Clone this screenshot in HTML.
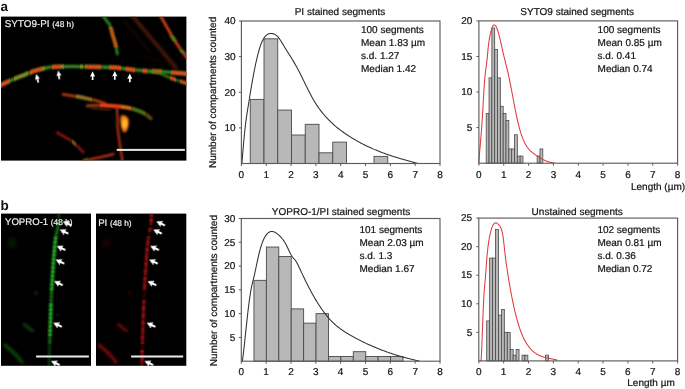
<!DOCTYPE html>
<html><head><meta charset="utf-8"><style>
html,body{margin:0;padding:0;background:#fff;}
body{width:685px;height:389px;overflow:hidden;}
svg{display:block;font-family:"Liberation Sans", sans-serif;}
text{text-rendering:geometricPrecision;}
.t text{stroke:#141414;stroke-width:0.22px;}
</style></head><body>
<svg width="685" height="389" viewBox="0 0 685 389" font-family="'Liberation Sans', sans-serif">
<rect width="685" height="389" fill="#fff"/>
<g opacity="0.999">
<defs><filter id="bl" x="-20%" y="-20%" width="140%" height="140%"><feGaussianBlur stdDeviation="1.05"/></filter><filter id="bl2" x="-20%" y="-20%" width="140%" height="140%"><feGaussianBlur stdDeviation="1.6"/></filter><filter id="bl3" x="-30%" y="-30%" width="160%" height="160%"><feGaussianBlur stdDeviation="2.5"/></filter><clipPath id="ca"><rect x="1" y="16.6" width="185.4" height="144.0"/></clipPath><clipPath id="cb1"><rect x="1" y="213.6" width="90" height="152.2"/></clipPath><clipPath id="cb2"><rect x="96" y="213.6" width="90.3" height="152.2"/></clipPath><clipPath id="f1y"><rect x="20" y="0" width="8" height="389"/><rect x="42" y="0" width="3" height="389"/><rect x="61" y="0" width="3" height="389"/><rect x="80" y="0" width="3" height="389"/><rect x="14" y="0" width="6" height="389"/></clipPath><clipPath id="f1o"><rect x="-5" y="0" width="15" height="389"/><rect x="30" y="0" width="12" height="389"/><rect x="52" y="0" width="9" height="389"/><rect x="85" y="0" width="16" height="389"/><rect x="109" y="0" width="12" height="389"/><rect x="125.5" y="0" width="9.5" height="389"/><rect x="142.5" y="0" width="5.0" height="389"/><rect x="152" y="0" width="10" height="389"/><rect x="171" y="0" width="19" height="389"/></clipPath><clipPath id="f1g"><rect x="10" y="0" width="4" height="389"/><rect x="42" y="0" width="10" height="389"/><rect x="63" y="0" width="17" height="389"/><rect x="101" y="0" width="8" height="389"/><rect x="121" y="0" width="4.5" height="389"/><rect x="135" y="0" width="7.5" height="389"/><rect x="147.5" y="0" width="4.5" height="389"/><rect x="162" y="0" width="9" height="389"/></clipPath><clipPath id="f1bo"><rect x="170" y="0" width="6" height="389"/><rect x="180" y="0" width="12" height="389"/></clipPath><clipPath id="f2o"><rect x="0" y="27" width="190" height="20.5"/></clipPath><clipPath id="f3g"><rect x="0" y="35.6" width="190" height="5.699999999999996"/><rect x="0" y="50" width="190" height="3.6000000000000014"/></clipPath><clipPath id="f5ag"><rect x="76" y="0" width="16" height="389"/></clipPath><clipPath id="f5bo"><rect x="100" y="0" width="21" height="389"/></clipPath><clipPath id="f5by"><rect x="121" y="0" width="10" height="389"/></clipPath><clipPath id="f5bg"><rect x="131" y="0" width="14" height="389"/></clipPath><clipPath id="f5bg2"><rect x="145" y="0" width="15" height="389"/></clipPath><clipPath id="f8g"><rect x="72" y="0" width="4" height="389"/></clipPath><clipPath id="f9g"><rect x="82" y="0" width="6" height="389"/></clipPath><filter id="bla" x="-50%" y="-50%" width="200%" height="200%"><feGaussianBlur stdDeviation="0.35"/></filter><clipPath id="bb1"><rect x="0" y="236" width="190" height="55"/><rect x="0" y="303" width="190" height="33"/></clipPath><clipPath id="bm1"><rect x="0" y="291" width="190" height="12"/><rect x="0" y="336" width="190" height="8"/><rect x="0" y="222" width="190" height="14"/></clipPath><clipPath id="bb96"><rect x="0" y="213" width="190" height="12"/><rect x="0" y="228" width="190" height="4"/><rect x="0" y="236" width="190" height="54"/><rect x="0" y="300" width="190" height="44"/><rect x="0" y="350" width="190" height="16"/></clipPath></defs>
<rect x="1" y="16.6" width="185.4" height="144.0" fill="#000"/>
<g clip-path="url(#ca)">
<path d="M131.00,14.00 C133.33,16.83 140.58,25.72 145.00,31.00 C149.42,36.28 153.17,40.53 157.50,45.70 C161.83,50.87 167.92,58.28 171.00,62.00 C174.08,65.72 175.17,67.00 176.00,68.00" fill="none" stroke="#7a2a12" stroke-width="3.0" stroke-linecap="round" stroke-linejoin="round" opacity="0.7" filter="url(#bl2)"/>
<path d="M124.00,21.00 C126.17,23.50 132.67,30.83 137.00,36.00 C141.33,41.17 147.83,49.33 150.00,52.00" fill="none" stroke="#3a1408" stroke-width="3" stroke-linecap="round" stroke-linejoin="round" opacity="0.3" filter="url(#bl2)"/>
<path d="M139.00,56.00 C142.50,56.83 153.83,59.67 160.00,61.00 C166.17,62.33 173.33,63.50 176.00,64.00" fill="none" stroke="#3a0c06" stroke-width="3" stroke-linecap="round" stroke-linejoin="round" opacity="0.2" filter="url(#bl2)"/>
<path d="M-3.00,87.00 C-2.50,86.77 -1.78,86.47 0.00,85.60 C1.78,84.73 5.13,83.00 7.70,81.80 C10.27,80.60 12.83,79.47 15.40,78.40 C17.97,77.33 20.52,76.43 23.10,75.40 C25.68,74.37 28.75,73.02 30.90,72.20 C33.05,71.38 34.08,71.07 36.00,70.50 C37.92,69.93 40.17,69.33 42.40,68.80 C44.63,68.27 46.47,67.67 49.40,67.30 C52.33,66.93 55.73,66.73 60.00,66.60 C64.27,66.47 70.00,66.47 75.00,66.50 C80.00,66.53 85.83,66.72 90.00,66.80 C94.17,66.88 95.83,66.88 100.00,67.00 C104.17,67.12 110.60,67.17 115.00,67.50 C119.40,67.83 123.42,68.63 126.40,69.00 C129.38,69.37 129.68,69.37 132.90,69.70 C136.12,70.03 141.42,70.72 145.70,71.00 C149.98,71.28 154.32,71.15 158.60,71.40 C162.88,71.65 166.17,72.07 171.40,72.50 C176.63,72.93 186.90,73.75 190.00,74.00" fill="none" stroke="#30962a" stroke-width="3.1" stroke-linecap="round" stroke-linejoin="round" opacity="1" filter="url(#bl)"/>
<path d="M-3.00,87.00 C-2.50,86.77 -1.78,86.47 0.00,85.60 C1.78,84.73 5.13,83.00 7.70,81.80 C10.27,80.60 12.83,79.47 15.40,78.40 C17.97,77.33 20.52,76.43 23.10,75.40 C25.68,74.37 28.75,73.02 30.90,72.20 C33.05,71.38 34.08,71.07 36.00,70.50 C37.92,69.93 40.17,69.33 42.40,68.80 C44.63,68.27 46.47,67.67 49.40,67.30 C52.33,66.93 55.73,66.73 60.00,66.60 C64.27,66.47 70.00,66.47 75.00,66.50 C80.00,66.53 85.83,66.72 90.00,66.80 C94.17,66.88 95.83,66.88 100.00,67.00 C104.17,67.12 110.60,67.17 115.00,67.50 C119.40,67.83 123.42,68.63 126.40,69.00 C129.38,69.37 129.68,69.37 132.90,69.70 C136.12,70.03 141.42,70.72 145.70,71.00 C149.98,71.28 154.32,71.15 158.60,71.40 C162.88,71.65 166.17,72.07 171.40,72.50 C176.63,72.93 186.90,73.75 190.00,74.00" fill="none" stroke="#9a8a1e" stroke-width="3.1" stroke-linecap="round" stroke-linejoin="round" opacity="1" clip-path="url(#f1y)" filter="url(#bl)"/>
<path d="M-3.00,87.00 C-2.50,86.77 -1.78,86.47 0.00,85.60 C1.78,84.73 5.13,83.00 7.70,81.80 C10.27,80.60 12.83,79.47 15.40,78.40 C17.97,77.33 20.52,76.43 23.10,75.40 C25.68,74.37 28.75,73.02 30.90,72.20 C33.05,71.38 34.08,71.07 36.00,70.50 C37.92,69.93 40.17,69.33 42.40,68.80 C44.63,68.27 46.47,67.67 49.40,67.30 C52.33,66.93 55.73,66.73 60.00,66.60 C64.27,66.47 70.00,66.47 75.00,66.50 C80.00,66.53 85.83,66.72 90.00,66.80 C94.17,66.88 95.83,66.88 100.00,67.00 C104.17,67.12 110.60,67.17 115.00,67.50 C119.40,67.83 123.42,68.63 126.40,69.00 C129.38,69.37 129.68,69.37 132.90,69.70 C136.12,70.03 141.42,70.72 145.70,71.00 C149.98,71.28 154.32,71.15 158.60,71.40 C162.88,71.65 166.17,72.07 171.40,72.50 C176.63,72.93 186.90,73.75 190.00,74.00" fill="none" stroke="#fa3e18" stroke-width="3.3" stroke-linecap="round" stroke-linejoin="round" opacity="1" clip-path="url(#f1o)" filter="url(#bl)"/>
<path d="M-3.00,87.00 C-2.50,86.77 -1.78,86.47 0.00,85.60 C1.78,84.73 5.13,83.00 7.70,81.80 C10.27,80.60 12.83,79.47 15.40,78.40 C17.97,77.33 20.52,76.43 23.10,75.40 C25.68,74.37 28.75,73.02 30.90,72.20 C33.05,71.38 34.08,71.07 36.00,70.50 C37.92,69.93 40.17,69.33 42.40,68.80 C44.63,68.27 46.47,67.67 49.40,67.30 C52.33,66.93 55.73,66.73 60.00,66.60 C64.27,66.47 70.00,66.47 75.00,66.50 C80.00,66.53 85.83,66.72 90.00,66.80 C94.17,66.88 95.83,66.88 100.00,67.00 C104.17,67.12 110.60,67.17 115.00,67.50 C119.40,67.83 123.42,68.63 126.40,69.00 C129.38,69.37 129.68,69.37 132.90,69.70 C136.12,70.03 141.42,70.72 145.70,71.00 C149.98,71.28 154.32,71.15 158.60,71.40 C162.88,71.65 166.17,72.07 171.40,72.50 C176.63,72.93 186.90,73.75 190.00,74.00" fill="none" stroke="#ff7a30" stroke-width="1.6" stroke-dasharray="1.2 2.3 0.8 3.1" opacity="0.55" clip-path="url(#f1o)" filter="url(#bl)"/>
<path d="M-3.00,87.00 C-2.50,86.77 -1.78,86.47 0.00,85.60 C1.78,84.73 5.13,83.00 7.70,81.80 C10.27,80.60 12.83,79.47 15.40,78.40 C17.97,77.33 20.52,76.43 23.10,75.40 C25.68,74.37 28.75,73.02 30.90,72.20 C33.05,71.38 34.08,71.07 36.00,70.50 C37.92,69.93 40.17,69.33 42.40,68.80 C44.63,68.27 46.47,67.67 49.40,67.30 C52.33,66.93 55.73,66.73 60.00,66.60 C64.27,66.47 70.00,66.47 75.00,66.50 C80.00,66.53 85.83,66.72 90.00,66.80 C94.17,66.88 95.83,66.88 100.00,67.00 C104.17,67.12 110.60,67.17 115.00,67.50 C119.40,67.83 123.42,68.63 126.40,69.00 C129.38,69.37 129.68,69.37 132.90,69.70 C136.12,70.03 141.42,70.72 145.70,71.00 C149.98,71.28 154.32,71.15 158.60,71.40 C162.88,71.65 166.17,72.07 171.40,72.50 C176.63,72.93 186.90,73.75 190.00,74.00" fill="none" stroke="#c8501c" stroke-width="1.8" stroke-dasharray="0.9 3.4 1.3 4.2" opacity="0.5" clip-path="url(#f1g)" filter="url(#bl)"/>
<path d="M150.00,71.40 C151.67,71.73 156.43,72.25 160.00,73.40 C163.57,74.55 166.40,76.45 171.40,78.30 C176.40,80.15 186.90,83.47 190.00,84.50" fill="none" stroke="#3c901c" stroke-width="2.4" stroke-linecap="round" stroke-linejoin="round" opacity="0.9" filter="url(#bl)"/>
<path d="M150.00,71.40 C151.67,71.73 156.43,72.25 160.00,73.40 C163.57,74.55 166.40,76.45 171.40,78.30 C176.40,80.15 186.90,83.47 190.00,84.50" fill="none" stroke="#f2461c" stroke-width="2.6" stroke-linecap="round" stroke-linejoin="round" opacity="1" clip-path="url(#f1bo)" filter="url(#bl)"/>
<path d="M102.50,15.00 C103.08,15.83 104.75,18.25 106.00,20.00 C107.25,21.75 108.85,22.90 110.00,25.50 C111.15,28.10 111.93,32.23 112.90,35.60 C113.87,38.97 115.05,42.63 115.80,45.70 C116.55,48.77 117.13,52.62 117.40,54.00" fill="none" stroke="#2e9222" stroke-width="2.6" stroke-linecap="round" stroke-linejoin="round" opacity="1" filter="url(#bl)"/>
<path d="M102.50,15.00 C103.08,15.83 104.75,18.25 106.00,20.00 C107.25,21.75 108.85,22.90 110.00,25.50 C111.15,28.10 111.93,32.23 112.90,35.60 C113.87,38.97 115.05,42.63 115.80,45.70 C116.55,48.77 117.13,52.62 117.40,54.00" fill="none" stroke="#f04a18" stroke-width="2.8" stroke-linecap="round" stroke-linejoin="round" opacity="1" clip-path="url(#f2o)" filter="url(#bl)"/>
<path d="M160.00,15.00 C161.27,17.23 165.38,24.48 167.60,28.40 C169.82,32.32 171.38,35.38 173.30,38.50 C175.22,41.62 177.18,44.35 179.10,47.10 C181.02,49.85 182.98,52.68 184.80,55.00 C186.62,57.32 189.13,60.00 190.00,61.00" fill="none" stroke="#ec4a1a" stroke-width="2.4" stroke-linecap="round" stroke-linejoin="round" opacity="1" filter="url(#bl)"/>
<path d="M160.00,15.00 C161.27,17.23 165.38,24.48 167.60,28.40 C169.82,32.32 171.38,35.38 173.30,38.50 C175.22,41.62 177.18,44.35 179.10,47.10 C181.02,49.85 182.98,52.68 184.80,55.00 C186.62,57.32 189.13,60.00 190.00,61.00" fill="none" stroke="#2e9222" stroke-width="2.4" stroke-linecap="round" stroke-linejoin="round" opacity="1" clip-path="url(#f3g)" filter="url(#bl)"/>
<path d="M63.00,94.40 C65.17,94.73 72.17,95.75 76.00,96.40 C79.83,97.05 83.00,97.68 86.00,98.30 C89.00,98.92 90.83,99.22 94.00,100.10 C97.17,100.98 103.17,103.02 105.00,103.60" fill="none" stroke="#d4461a" stroke-width="2.6" stroke-linecap="round" stroke-linejoin="round" opacity="0.9" filter="url(#bl)"/>
<path d="M63.00,94.40 C65.17,94.73 72.17,95.75 76.00,96.40 C79.83,97.05 83.00,97.68 86.00,98.30 C89.00,98.92 90.83,99.22 94.00,100.10 C97.17,100.98 103.17,103.02 105.00,103.60" fill="none" stroke="#7e9422" stroke-width="2.6" stroke-linecap="round" stroke-linejoin="round" opacity="0.85" clip-path="url(#f5ag)" filter="url(#bl)"/>
<path d="M87.00,105.80 C89.62,105.72 97.20,105.17 102.70,105.30 C108.20,105.43 114.97,106.02 120.00,106.60 C125.03,107.18 128.95,107.72 132.90,108.80 C136.85,109.88 140.68,111.48 143.70,113.10 C146.72,114.72 149.78,117.60 151.00,118.50" fill="none" stroke="#a04416" stroke-width="2.8" stroke-linecap="round" stroke-linejoin="round" opacity="1" filter="url(#bl)"/>
<path d="M87.00,105.80 C89.62,105.72 97.20,105.17 102.70,105.30 C108.20,105.43 114.97,106.02 120.00,106.60 C125.03,107.18 128.95,107.72 132.90,108.80 C136.85,109.88 140.68,111.48 143.70,113.10 C146.72,114.72 149.78,117.60 151.00,118.50" fill="none" stroke="#ff3c12" stroke-width="3.0" stroke-linecap="round" stroke-linejoin="round" opacity="1" clip-path="url(#f5bo)" filter="url(#bl)"/>
<path d="M87.00,105.80 C89.62,105.72 97.20,105.17 102.70,105.30 C108.20,105.43 114.97,106.02 120.00,106.60 C125.03,107.18 128.95,107.72 132.90,108.80 C136.85,109.88 140.68,111.48 143.70,113.10 C146.72,114.72 149.78,117.60 151.00,118.50" fill="none" stroke="#e07a1a" stroke-width="2.9" stroke-linecap="round" stroke-linejoin="round" opacity="1" clip-path="url(#f5by)" filter="url(#bl)"/>
<path d="M87.00,105.80 C89.62,105.72 97.20,105.17 102.70,105.30 C108.20,105.43 114.97,106.02 120.00,106.60 C125.03,107.18 128.95,107.72 132.90,108.80 C136.85,109.88 140.68,111.48 143.70,113.10 C146.72,114.72 149.78,117.60 151.00,118.50" fill="none" stroke="#2a8a1c" stroke-width="2.8" stroke-linecap="round" stroke-linejoin="round" opacity="0.9" clip-path="url(#f5bg)" filter="url(#bl)"/>
<path d="M87.00,105.80 C89.62,105.72 97.20,105.17 102.70,105.30 C108.20,105.43 114.97,106.02 120.00,106.60 C125.03,107.18 128.95,107.72 132.90,108.80 C136.85,109.88 140.68,111.48 143.70,113.10 C146.72,114.72 149.78,117.60 151.00,118.50" fill="none" stroke="#1e5a14" stroke-width="2.6" stroke-linecap="round" stroke-linejoin="round" opacity="0.6" clip-path="url(#f5bg2)" filter="url(#bl)"/>
<path d="M92.00,107.80 C93.87,108.05 100.20,108.97 103.20,109.30 C106.20,109.63 108.87,109.72 110.00,109.80" fill="none" stroke="#6a3010" stroke-width="2.2" stroke-linecap="round" stroke-linejoin="round" opacity="0.7" filter="url(#bl)"/>
<path d="M116.80,108.00 C116.93,110.00 117.43,116.63 117.60,120.00 C117.77,123.37 117.40,123.95 117.80,128.20 C118.20,132.45 119.28,140.45 120.00,145.50 C120.72,150.55 121.63,155.75 122.10,158.50 C122.57,161.25 122.68,161.42 122.80,162.00" fill="none" stroke="#b83014" stroke-width="2.3" stroke-linecap="round" stroke-linejoin="round" opacity="1" filter="url(#bl)"/>
<path d="M121.5,115.5 C126,114.5 129.5,118 128.8,124 C128.2,129 126,132.5 124.6,132.5 C122.8,132.5 121,128 120.5,123 C120.2,119.5 120.3,116 121.5,115.5 Z" fill="#f07a14" filter="url(#bl)"/>
<ellipse cx="124.6" cy="123.6" rx="2.4" ry="4.4" fill="#ffbe22" filter="url(#bl)"/>
<path d="M57.00,132.50 C58.17,133.17 61.78,135.23 64.00,136.50 C66.22,137.77 68.13,138.60 70.30,140.10 C72.47,141.60 74.80,143.43 77.00,145.50 C79.20,147.57 82.42,151.33 83.50,152.50" fill="none" stroke="#b41c14" stroke-width="2.3" stroke-linecap="round" stroke-linejoin="round" opacity="0.9" filter="url(#bl)"/>
<path d="M57.00,132.50 C58.17,133.17 61.78,135.23 64.00,136.50 C66.22,137.77 68.13,138.60 70.30,140.10 C72.47,141.60 74.80,143.43 77.00,145.50 C79.20,147.57 82.42,151.33 83.50,152.50" fill="none" stroke="#3a9a1c" stroke-width="2.3" stroke-linecap="round" stroke-linejoin="round" opacity="0.9" clip-path="url(#f8g)" filter="url(#bl)"/>
<path d="M84.00,160.50 C85.83,160.13 91.53,159.00 95.00,158.30 C98.47,157.60 101.72,157.00 104.80,156.30 C107.88,155.60 112.05,154.47 113.50,154.10" fill="none" stroke="#c8361a" stroke-width="2.5" stroke-linecap="round" stroke-linejoin="round" opacity="0.9" filter="url(#bl)"/>
<path d="M84.00,160.50 C85.83,160.13 91.53,159.00 95.00,158.30 C98.47,157.60 101.72,157.00 104.80,156.30 C107.88,155.60 112.05,154.47 113.50,154.10" fill="none" stroke="#2a7a18" stroke-width="2.5" stroke-linecap="round" stroke-linejoin="round" opacity="0.8" clip-path="url(#f9g)" filter="url(#bl)"/>
</g>
<polygon points="0.00,0.00 2.60,5.60 0.80,5.00 0.90,8.80 -0.90,8.80 -0.80,5.00 -2.60,5.60" fill="#fff" transform="translate(36.2,74.0) rotate(-14)" filter="url(#bla)"/>
<polygon points="0.00,0.00 2.60,5.60 0.80,5.00 0.90,8.80 -0.90,8.80 -0.80,5.00 -2.60,5.60" fill="#fff" transform="translate(58.3,70.5) rotate(-7)" filter="url(#bla)"/>
<polygon points="0.00,0.00 2.60,5.60 0.80,5.00 0.90,8.80 -0.90,8.80 -0.80,5.00 -2.60,5.60" fill="#fff" transform="translate(92.6,71.2) rotate(0)" filter="url(#bla)"/>
<polygon points="0.00,0.00 2.60,5.60 0.80,5.00 0.90,8.80 -0.90,8.80 -0.80,5.00 -2.60,5.60" fill="#fff" transform="translate(114.8,70.9) rotate(0)" filter="url(#bla)"/>
<polygon points="0.00,0.00 2.60,5.60 0.80,5.00 0.90,8.80 -0.90,8.80 -0.80,5.00 -2.60,5.60" fill="#fff" transform="translate(129.8,73.4) rotate(0)" filter="url(#bla)"/>
<rect x="116.7" y="148.9" width="68.2" height="2" fill="#e6e6e6"/>
<text x="4.7" y="27.4" font-size="9.9" fill="#f0f0f0" stroke="#f0f0f0" stroke-width="0.2">SYTO9-PI <tspan font-size="8.3">(48 h)</tspan></text>
<rect x="1" y="213.6" width="90" height="152.2" fill="#000"/>
<g clip-path="url(#cb1)">
<path d="M5.00,345.00 C6.50,346.33 11.17,350.17 14.00,353.00 C16.83,355.83 20.67,360.50 22.00,362.00" fill="none" stroke="#1fa81f" stroke-width="3.2" stroke-linecap="round" stroke-linejoin="round" opacity="0.45" filter="url(#bl2)"/>
<path d="M24.00,324.00 C24.67,324.58 26.50,326.33 28.00,327.50 C29.50,328.67 32.17,330.42 33.00,331.00" fill="none" stroke="#1fa81f" stroke-width="2.6" stroke-linecap="round" stroke-linejoin="round" opacity="0.45" filter="url(#bl2)"/>
<circle cx="36" cy="293" r="1.6" fill="#1fa81f" opacity="0.4" filter="url(#bl2)"/>
<circle cx="57.5" cy="315" r="1.3" fill="#1fa81f" opacity="0.35" filter="url(#bl2)"/>
<ellipse cx="12" cy="243" rx="4" ry="5" fill="#1fa81f" opacity="0.18" filter="url(#bl3)"/>
<path d="M59.00,212.00 C58.83,214.33 58.53,221.83 58.00,226.00 C57.47,230.17 56.47,232.17 55.80,237.00 C55.13,241.83 54.53,248.67 54.00,255.00 C53.47,261.33 53.03,268.33 52.60,275.00 C52.17,281.67 51.75,287.50 51.40,295.00 C51.05,302.50 50.80,311.67 50.50,320.00 C50.20,328.33 49.82,337.00 49.60,345.00 C49.38,353.00 49.27,364.17 49.20,368.00" fill="none" stroke="#1fa81f" stroke-width="2.2" stroke-linecap="round" stroke-linejoin="round" opacity="0.42" filter="url(#bl)"/>
<path d="M59.00,212.00 C58.83,214.33 58.53,221.83 58.00,226.00 C57.47,230.17 56.47,232.17 55.80,237.00 C55.13,241.83 54.53,248.67 54.00,255.00 C53.47,261.33 53.03,268.33 52.60,275.00 C52.17,281.67 51.75,287.50 51.40,295.00 C51.05,302.50 50.80,311.67 50.50,320.00 C50.20,328.33 49.82,337.00 49.60,345.00 C49.38,353.00 49.27,364.17 49.20,368.00" fill="none" stroke="#35e835" stroke-width="2.8" stroke-dasharray="2.4 1.6" stroke-linecap="butt" opacity="0.5" clip-path="url(#bm1)" filter="url(#bl)"/>
<path d="M59.00,212.00 C58.83,214.33 58.53,221.83 58.00,226.00 C57.47,230.17 56.47,232.17 55.80,237.00 C55.13,241.83 54.53,248.67 54.00,255.00 C53.47,261.33 53.03,268.33 52.60,275.00 C52.17,281.67 51.75,287.50 51.40,295.00 C51.05,302.50 50.80,311.67 50.50,320.00 C50.20,328.33 49.82,337.00 49.60,345.00 C49.38,353.00 49.27,364.17 49.20,368.00" fill="none" stroke="#35e835" stroke-width="3.0" stroke-dasharray="2.8 1.4" stroke-linecap="butt" clip-path="url(#bb1)" filter="url(#bl)"/>
</g>
<polygon points="0.00,0.00 3.30,6.20 1.00,5.50 1.10,9.40 -1.10,9.40 -1.00,5.50 -3.30,6.20" fill="#fff" transform="translate(62.8,221.4) rotate(-65)" filter="url(#bla)"/>
<polygon points="0.00,0.00 3.30,6.20 1.00,5.50 1.10,9.40 -1.10,9.40 -1.00,5.50 -3.30,6.20" fill="#fff" transform="translate(59.7,229.6) rotate(-65)" filter="url(#bla)"/>
<polygon points="0.00,0.00 3.30,6.20 1.00,5.50 1.10,9.40 -1.10,9.40 -1.00,5.50 -3.30,6.20" fill="#fff" transform="translate(56.7,246.0) rotate(-65)" filter="url(#bla)"/>
<polygon points="0.00,0.00 3.30,6.20 1.00,5.50 1.10,9.40 -1.10,9.40 -1.00,5.50 -3.30,6.20" fill="#fff" transform="translate(55.6,259.6) rotate(-65)" filter="url(#bla)"/>
<polygon points="0.00,0.00 3.30,6.20 1.00,5.50 1.10,9.40 -1.10,9.40 -1.00,5.50 -3.30,6.20" fill="#fff" transform="translate(54.1,281.2) rotate(-65)" filter="url(#bla)"/>
<polygon points="0.00,0.00 3.30,6.20 1.00,5.50 1.10,9.40 -1.10,9.40 -1.00,5.50 -3.30,6.20" fill="#fff" transform="translate(53.2,322.8) rotate(-65)" filter="url(#bla)"/>
<polygon points="0.00,0.00 3.30,6.20 1.00,5.50 1.10,9.40 -1.10,9.40 -1.00,5.50 -3.30,6.20" fill="#fff" transform="translate(51.0,361.0) rotate(-65)" filter="url(#bla)"/>
<rect x="36.1" y="355.5" width="52.8" height="2" fill="#ececec"/>
<text x="5.0" y="224.8" font-size="9.6" fill="#f0f0f0" stroke="#f0f0f0" stroke-width="0.2">YOPRO-1 <tspan font-size="8.3">(48 h)</tspan></text>
<rect x="96" y="213.6" width="90.3" height="152.2" fill="#000"/>
<g clip-path="url(#cb2)">
<path d="M99.00,345.00 C100.50,346.33 105.17,350.17 108.00,353.00 C110.83,355.83 114.67,360.50 116.00,362.00" fill="none" stroke="#a01010" stroke-width="3.2" stroke-linecap="round" stroke-linejoin="round" opacity="0.8" filter="url(#bl2)"/>
<path d="M118.00,324.00 C118.67,324.58 120.50,326.33 122.00,327.50 C123.50,328.67 126.17,330.42 127.00,331.00" fill="none" stroke="#a01010" stroke-width="2.6" stroke-linecap="round" stroke-linejoin="round" opacity="0.75" filter="url(#bl2)"/>
<circle cx="130" cy="293" r="1.6" fill="#a01010" opacity="0.4" filter="url(#bl2)"/>
<circle cx="151.5" cy="315" r="1.3" fill="#a01010" opacity="0.35" filter="url(#bl2)"/>
<ellipse cx="106" cy="243" rx="4" ry="5" fill="#a01010" opacity="0.18" filter="url(#bl3)"/>
<path d="M151.70,212.00 C151.53,214.33 151.23,221.83 150.70,226.00 C150.17,230.17 149.17,232.17 148.50,237.00 C147.83,241.83 147.23,248.67 146.70,255.00 C146.17,261.33 145.73,268.33 145.30,275.00 C144.87,281.67 144.45,287.50 144.10,295.00 C143.75,302.50 143.50,311.67 143.20,320.00 C142.90,328.33 142.52,337.00 142.30,345.00 C142.08,353.00 141.97,364.17 141.90,368.00" fill="none" stroke="#a01010" stroke-width="2.2" stroke-linecap="round" stroke-linejoin="round" opacity="0.3" filter="url(#bl)"/>
<path d="M151.70,212.00 C151.53,214.33 151.23,221.83 150.70,226.00 C150.17,230.17 149.17,232.17 148.50,237.00 C147.83,241.83 147.23,248.67 146.70,255.00 C146.17,261.33 145.73,268.33 145.30,275.00 C144.87,281.67 144.45,287.50 144.10,295.00 C143.75,302.50 143.50,311.67 143.20,320.00 C142.90,328.33 142.52,337.00 142.30,345.00 C142.08,353.00 141.97,364.17 141.90,368.00" fill="none" stroke="#ff1e1e" stroke-width="2.6" stroke-dasharray="2.2 1.3 1.5 2.2 2.8 1.6 1.2 1.8" stroke-linecap="butt" clip-path="url(#bb96)" filter="url(#bl)"/>
</g>
<polygon points="0.00,0.00 3.30,6.20 1.00,5.50 1.10,9.40 -1.10,9.40 -1.00,5.50 -3.30,6.20" fill="#fff" transform="translate(156.3,221.4) rotate(-65)" filter="url(#bla)"/>
<polygon points="0.00,0.00 3.30,6.20 1.00,5.50 1.10,9.40 -1.10,9.40 -1.00,5.50 -3.30,6.20" fill="#fff" transform="translate(153.2,229.6) rotate(-65)" filter="url(#bla)"/>
<polygon points="0.00,0.00 3.30,6.20 1.00,5.50 1.10,9.40 -1.10,9.40 -1.00,5.50 -3.30,6.20" fill="#fff" transform="translate(150.2,246.0) rotate(-65)" filter="url(#bla)"/>
<polygon points="0.00,0.00 3.30,6.20 1.00,5.50 1.10,9.40 -1.10,9.40 -1.00,5.50 -3.30,6.20" fill="#fff" transform="translate(149.1,259.6) rotate(-65)" filter="url(#bla)"/>
<polygon points="0.00,0.00 3.30,6.20 1.00,5.50 1.10,9.40 -1.10,9.40 -1.00,5.50 -3.30,6.20" fill="#fff" transform="translate(147.6,281.2) rotate(-65)" filter="url(#bla)"/>
<polygon points="0.00,0.00 3.30,6.20 1.00,5.50 1.10,9.40 -1.10,9.40 -1.00,5.50 -3.30,6.20" fill="#fff" transform="translate(146.7,322.8) rotate(-65)" filter="url(#bla)"/>
<polygon points="0.00,0.00 3.30,6.20 1.00,5.50 1.10,9.40 -1.10,9.40 -1.00,5.50 -3.30,6.20" fill="#fff" transform="translate(144.5,361.0) rotate(-65)" filter="url(#bla)"/>
<rect x="131.1" y="355.5" width="52.1" height="2" fill="#ececec"/>
<text x="98.2" y="225.6" font-size="9.6" fill="#f0f0f0" stroke="#f0f0f0" stroke-width="0.2">PI <tspan font-size="8.3">(48 h)</tspan></text>
<text x="0.6" y="11.3" font-size="13.5" font-weight="bold" fill="#111">a</text>
<text x="0.4" y="209.7" font-size="13.5" font-weight="bold" fill="#111">b</text>
<g class="t"><rect x="250.25" y="99.38" width="13.75" height="64.12" fill="#b8b8b8" stroke="#4a4a4a" stroke-width="0.9"/>
<rect x="264.00" y="38.81" width="13.75" height="124.69" fill="#b8b8b8" stroke="#4a4a4a" stroke-width="0.9"/>
<rect x="277.75" y="110.06" width="13.75" height="53.44" fill="#b8b8b8" stroke="#4a4a4a" stroke-width="0.9"/>
<rect x="291.50" y="135.00" width="13.75" height="28.50" fill="#b8b8b8" stroke="#4a4a4a" stroke-width="0.9"/>
<rect x="305.25" y="124.31" width="13.75" height="39.19" fill="#b8b8b8" stroke="#4a4a4a" stroke-width="0.9"/>
<rect x="319.00" y="152.81" width="13.75" height="10.69" fill="#b8b8b8" stroke="#4a4a4a" stroke-width="0.9"/>
<rect x="332.75" y="142.12" width="13.75" height="21.38" fill="#b8b8b8" stroke="#4a4a4a" stroke-width="0.9"/>
<rect x="374.00" y="156.38" width="13.75" height="7.12" fill="#b8b8b8" stroke="#4a4a4a" stroke-width="0.9"/>
<polyline points="241.90,163.50 242.48,156.22 243.07,149.20 243.66,142.53 244.25,136.27 244.84,130.46 245.42,125.15 246.01,120.39 246.60,116.19 247.19,112.37 247.77,108.75 248.36,105.13 248.95,101.47 249.54,97.80 250.13,94.17 250.71,90.61 251.30,87.13 251.89,83.72 252.48,80.39 253.07,77.15 253.65,74.00 254.24,70.95 254.83,67.99 255.42,65.14 256.00,62.40 256.59,59.77 257.18,57.26 257.77,54.88 258.36,52.62 258.94,50.49 259.53,48.50 260.12,46.65 260.71,44.95 261.29,43.40 261.88,41.99 262.47,40.72 263.06,39.57 263.65,38.55 264.23,37.65 264.82,36.86 265.41,36.17 266.00,35.58 266.59,35.07 267.17,34.66 267.76,34.32 268.35,34.05 268.94,33.84 269.52,33.69 270.11,33.59 270.70,33.54 271.29,33.52 271.88,33.54 272.46,33.61 273.05,33.72 273.64,33.88 274.23,34.09 274.81,34.36 275.40,34.69 275.99,35.09 276.58,35.56 277.17,36.09 277.75,36.71 278.34,37.40 278.93,38.15 279.52,38.97 280.11,39.83 280.69,40.73 281.28,41.66 281.87,42.62 282.46,43.59 283.04,44.57 283.63,45.55 284.22,46.52 284.81,47.48 285.40,48.43 285.98,49.38 286.57,50.31 287.16,51.25 287.75,52.18 288.34,53.10 288.92,54.03 289.51,54.96 290.10,55.89 290.69,56.83 291.27,57.77 291.86,58.72 292.45,59.67 293.04,60.64 293.63,61.62 294.21,62.61 294.80,63.62 295.39,64.65 295.98,65.69 296.56,66.75 297.15,67.84 297.74,68.94 298.33,70.06 298.92,71.19 299.50,72.34 300.09,73.50 300.68,74.67 301.27,75.85 301.86,77.03 302.44,78.23 303.03,79.42 303.62,80.63 304.21,81.83 304.79,83.03 305.38,84.23 305.97,85.43 306.56,86.62 307.15,87.81 307.73,88.99 308.32,90.16 308.91,91.32 309.50,92.46 310.08,93.60 310.67,94.71 311.26,95.81 311.85,96.89 312.44,97.95 313.02,98.99 313.61,100.01 314.20,101.01 314.79,101.98 315.38,102.93 315.96,103.86 316.55,104.77 317.14,105.66 317.73,106.53 318.31,107.38 318.90,108.21 319.49,109.03 320.08,109.83 320.67,110.61 321.25,111.37 321.84,112.12 322.43,112.86 323.02,113.58 323.60,114.28 324.19,114.97 324.78,115.65 325.37,116.31 325.96,116.96 326.54,117.60 327.13,118.23 327.72,118.85 328.31,119.46 328.90,120.06 329.48,120.65 330.07,121.23 330.66,121.80 331.25,122.36 331.83,122.91 332.42,123.46 333.01,124.00 333.60,124.52 334.19,125.05 334.77,125.56 335.36,126.07 335.95,126.57 336.54,127.06 337.12,127.54 337.71,128.02 338.30,128.49 338.89,128.96 339.48,129.42 340.06,129.87 340.65,130.32 341.24,130.76 341.83,131.20 342.42,131.63 343.00,132.05 343.59,132.47 344.18,132.88 344.77,133.29 345.35,133.70 345.94,134.10 346.53,134.50 347.12,134.89 347.71,135.28 348.29,135.66 348.88,136.04 349.47,136.42 350.06,136.79 350.64,137.16 351.23,137.53 351.82,137.89 352.41,138.25 353.00,138.60 353.58,138.96 354.17,139.31 354.76,139.65 355.35,139.99 355.94,140.33 356.52,140.67 357.11,141.00 357.70,141.33 358.29,141.66 358.87,141.98 359.46,142.30 360.05,142.62 360.64,142.93 361.23,143.24 361.81,143.55 362.40,143.85 362.99,144.16 363.58,144.45 364.17,144.75 364.75,145.04 365.34,145.33 365.93,145.62 366.52,145.91 367.10,146.19 367.69,146.47 368.28,146.75 368.87,147.02 369.46,147.29 370.04,147.56 370.63,147.83 371.22,148.09 371.81,148.35 372.39,148.61 372.98,148.87 373.57,149.12 374.16,149.37 374.75,149.62 375.33,149.87 375.92,150.11 376.51,150.35 377.10,150.59 377.69,150.83 378.27,151.07 378.86,151.30 379.45,151.53 380.04,151.76 380.62,151.99 381.21,152.21 381.80,152.44 382.39,152.66 382.98,152.88 383.56,153.09 384.15,153.31 384.74,153.52 385.33,153.73 385.91,153.94 386.50,154.15 387.09,154.36 387.68,154.56 388.27,154.77 388.85,154.97 389.44,155.17 390.03,155.36 390.62,155.56 391.21,155.75 391.79,155.95 392.38,156.14 392.97,156.33 393.56,156.52 394.14,156.70 394.73,156.89 395.32,157.08 395.91,157.26 396.50,157.44 397.08,157.62 397.67,157.80 398.26,157.98 398.85,158.16 399.43,158.33 400.02,158.51 400.61,158.68 401.20,158.85 401.79,159.02 402.37,159.19 402.96,159.36 403.55,159.53 404.14,159.70 404.73,159.87 405.31,160.03 405.90,160.20 406.49,160.36 407.08,160.52 407.66,160.69 408.25,160.85 408.84,161.01 409.43,161.17 410.02,161.33 410.60,161.49 411.19,161.65 411.78,161.81 412.37,161.96 412.95,162.12 413.54,162.28 414.13,162.43 414.72,162.59 415.31,162.74 415.89,162.90 416.48,163.05 417.07,163.21 417.66,163.50" fill="none" stroke="#303030" stroke-width="1.05" stroke-linejoin="round"/>
<rect x="241.40" y="21.00" width="198.60" height="142.50" fill="none" stroke="#5c5c5c" stroke-width="1.15"/>
<line x1="241.40" y1="163.50" x2="241.40" y2="166.00" stroke="#5c5c5c" stroke-width="1"/>
<text x="241.40" y="177.60" text-anchor="middle" font-size="10" fill="#141414">0</text>
<line x1="266.23" y1="163.50" x2="266.23" y2="166.00" stroke="#5c5c5c" stroke-width="1"/>
<text x="266.23" y="177.60" text-anchor="middle" font-size="10" fill="#141414">1</text>
<line x1="291.05" y1="163.50" x2="291.05" y2="166.00" stroke="#5c5c5c" stroke-width="1"/>
<text x="291.05" y="177.60" text-anchor="middle" font-size="10" fill="#141414">2</text>
<line x1="315.88" y1="163.50" x2="315.88" y2="166.00" stroke="#5c5c5c" stroke-width="1"/>
<text x="315.88" y="177.60" text-anchor="middle" font-size="10" fill="#141414">3</text>
<line x1="340.70" y1="163.50" x2="340.70" y2="166.00" stroke="#5c5c5c" stroke-width="1"/>
<text x="340.70" y="177.60" text-anchor="middle" font-size="10" fill="#141414">4</text>
<line x1="365.52" y1="163.50" x2="365.52" y2="166.00" stroke="#5c5c5c" stroke-width="1"/>
<text x="365.52" y="177.60" text-anchor="middle" font-size="10" fill="#141414">5</text>
<line x1="390.35" y1="163.50" x2="390.35" y2="166.00" stroke="#5c5c5c" stroke-width="1"/>
<text x="390.35" y="177.60" text-anchor="middle" font-size="10" fill="#141414">6</text>
<line x1="415.18" y1="163.50" x2="415.18" y2="166.00" stroke="#5c5c5c" stroke-width="1"/>
<text x="415.18" y="177.60" text-anchor="middle" font-size="10" fill="#141414">7</text>
<line x1="440.00" y1="163.50" x2="440.00" y2="166.00" stroke="#5c5c5c" stroke-width="1"/>
<text x="440.00" y="177.60" text-anchor="middle" font-size="10" fill="#141414">8</text>
<line x1="238.90" y1="127.88" x2="241.40" y2="127.88" stroke="#5c5c5c" stroke-width="1"/>
<text x="235.60" y="131.12" text-anchor="end" font-size="10" fill="#141414">10</text>
<line x1="238.90" y1="92.25" x2="241.40" y2="92.25" stroke="#5c5c5c" stroke-width="1"/>
<text x="235.60" y="95.50" text-anchor="end" font-size="10" fill="#141414">20</text>
<line x1="238.90" y1="56.62" x2="241.40" y2="56.62" stroke="#5c5c5c" stroke-width="1"/>
<text x="235.60" y="59.88" text-anchor="end" font-size="10" fill="#141414">30</text>
<line x1="238.90" y1="21.00" x2="241.40" y2="21.00" stroke="#5c5c5c" stroke-width="1"/>
<text x="235.60" y="24.25" text-anchor="end" font-size="10" fill="#141414">40</text>
<text x="340.00" y="15.00" text-anchor="middle" font-size="10" fill="#141414">PI stained segments</text>
<text x="361.00" y="32.70" font-size="10" fill="#141414">100 segments</text>
<text x="361.00" y="45.80" font-size="10" fill="#141414">Mean 1.83 µm</text>
<text x="361.00" y="58.90" font-size="10" fill="#141414">s.d. 1.27</text>
<text x="361.00" y="72.00" font-size="10" fill="#141414">Median 1.42</text>
<text transform="translate(216.30,92.40) rotate(-90)" text-anchor="middle" font-size="10" fill="#141414">Number of compartments counted</text>
<rect x="486.20" y="113.39" width="2.83" height="49.80" fill="#b8b8b8" stroke="#4a4a4a" stroke-width="0.8"/>
<rect x="489.03" y="77.82" width="2.83" height="85.38" fill="#b8b8b8" stroke="#4a4a4a" stroke-width="0.8"/>
<rect x="491.86" y="28.02" width="2.83" height="135.18" fill="#b8b8b8" stroke="#4a4a4a" stroke-width="0.8"/>
<rect x="494.69" y="49.36" width="2.83" height="113.84" fill="#b8b8b8" stroke="#4a4a4a" stroke-width="0.8"/>
<rect x="497.52" y="77.82" width="2.83" height="85.38" fill="#b8b8b8" stroke="#4a4a4a" stroke-width="0.8"/>
<rect x="500.35" y="106.28" width="2.83" height="56.92" fill="#b8b8b8" stroke="#4a4a4a" stroke-width="0.8"/>
<rect x="503.18" y="113.39" width="2.83" height="49.80" fill="#b8b8b8" stroke="#4a4a4a" stroke-width="0.8"/>
<rect x="506.01" y="120.51" width="2.83" height="42.69" fill="#b8b8b8" stroke="#4a4a4a" stroke-width="0.8"/>
<rect x="508.84" y="148.97" width="2.83" height="14.23" fill="#b8b8b8" stroke="#4a4a4a" stroke-width="0.8"/>
<rect x="511.67" y="148.97" width="2.83" height="14.23" fill="#b8b8b8" stroke="#4a4a4a" stroke-width="0.8"/>
<rect x="514.50" y="134.74" width="2.83" height="28.46" fill="#b8b8b8" stroke="#4a4a4a" stroke-width="0.8"/>
<rect x="517.33" y="156.08" width="2.83" height="7.12" fill="#b8b8b8" stroke="#4a4a4a" stroke-width="0.8"/>
<rect x="520.16" y="156.08" width="2.83" height="7.12" fill="#b8b8b8" stroke="#4a4a4a" stroke-width="0.8"/>
<rect x="537.14" y="156.08" width="2.83" height="7.12" fill="#b8b8b8" stroke="#4a4a4a" stroke-width="0.8"/>
<rect x="539.97" y="148.97" width="2.83" height="14.23" fill="#b8b8b8" stroke="#4a4a4a" stroke-width="0.8"/>
<polyline points="478.70,163.20 478.95,159.95 479.21,156.98 479.46,154.06 479.71,151.16 479.97,148.27 480.22,145.36 480.47,142.41 480.73,139.41 480.98,136.33 481.23,133.15 481.49,129.86 481.74,126.43 481.99,122.84 482.25,119.08 482.50,115.11 482.75,110.94 483.01,106.52 483.26,101.96 483.51,97.43 483.77,93.11 484.02,89.06 484.27,85.31 484.52,81.88 484.78,78.78 485.03,76.02 485.28,73.61 485.54,71.46 485.79,69.50 486.04,67.65 486.30,65.82 486.55,63.93 486.80,61.90 487.06,59.65 487.31,57.12 487.56,54.40 487.82,51.61 488.07,48.90 488.32,46.39 488.58,44.19 488.83,42.26 489.08,40.56 489.34,39.05 489.59,37.67 489.84,36.39 490.09,35.17 490.35,33.99 490.60,32.87 490.85,31.80 491.11,30.80 491.36,29.86 491.61,29.01 491.87,28.23 492.12,27.54 492.37,26.94 492.63,26.42 492.88,25.98 493.13,25.62 493.39,25.33 493.64,25.12 493.89,24.99 494.15,24.93 494.40,24.94 494.65,25.01 494.91,25.16 495.16,25.36 495.41,25.63 495.67,25.96 495.92,26.34 496.17,26.79 496.42,27.28 496.68,27.83 496.93,28.43 497.18,29.08 497.44,29.77 497.69,30.51 497.94,31.30 498.20,32.12 498.45,32.98 498.70,33.88 498.96,34.81 499.21,35.78 499.46,36.77 499.72,37.80 499.97,38.84 500.22,39.91 500.48,41.00 500.73,42.11 500.98,43.22 501.24,44.35 501.49,45.49 501.74,46.63 502.00,47.77 502.25,48.91 502.50,50.04 502.75,51.17 503.01,52.29 503.26,53.39 503.51,54.48 503.77,55.55 504.02,56.60 504.27,57.64 504.53,58.67 504.78,59.68 505.03,60.69 505.29,61.69 505.54,62.69 505.79,63.69 506.05,64.70 506.30,65.70 506.55,66.72 506.81,67.74 507.06,68.78 507.31,69.83 507.57,70.90 507.82,71.99 508.07,73.10 508.32,74.23 508.58,75.39 508.83,76.56 509.08,77.76 509.34,78.98 509.59,80.22 509.84,81.47 510.10,82.73 510.35,84.02 510.60,85.31 510.86,86.61 511.11,87.93 511.36,89.25 511.62,90.58 511.87,91.92 512.12,93.26 512.38,94.60 512.63,95.95 512.88,97.29 513.14,98.64 513.39,99.99 513.64,101.33 513.90,102.66 514.15,104.00 514.40,105.32 514.65,106.63 514.91,107.94 515.16,109.24 515.41,110.52 515.67,111.79 515.92,113.04 516.17,114.28 516.43,115.50 516.68,116.70 516.93,117.88 517.19,119.04 517.44,120.18 517.69,121.29 517.95,122.38 518.20,123.44 518.45,124.47 518.71,125.48 518.96,126.46 519.21,127.42 519.47,128.35 519.72,129.26 519.97,130.15 520.22,131.01 520.48,131.85 520.73,132.66 520.98,133.46 521.24,134.23 521.49,134.98 521.74,135.71 522.00,136.42 522.25,137.10 522.50,137.77 522.76,138.42 523.01,139.05 523.26,139.66 523.52,140.25 523.77,140.83 524.02,141.38 524.28,141.92 524.53,142.44 524.78,142.95 525.04,143.44 525.29,143.92 525.54,144.38 525.80,144.82 526.05,145.25 526.30,145.67 526.55,146.07 526.81,146.47 527.06,146.84 527.31,147.21 527.57,147.56 527.82,147.90 528.07,148.24 528.33,148.56 528.58,148.87 528.83,149.17 529.09,149.46 529.34,149.74 529.59,150.01 529.85,150.27 530.10,150.53 530.35,150.78 530.61,151.02 530.86,151.26 531.11,151.49 531.37,151.71 531.62,151.93 531.87,152.14 532.13,152.35 532.38,152.55 532.63,152.75 532.88,152.94 533.14,153.14 533.39,153.33 533.64,153.51 533.90,153.70 534.15,153.88 534.40,154.07 534.66,154.25 534.91,154.43 535.16,154.61 535.42,154.79 535.67,154.97 535.92,155.15 536.18,155.32 536.43,155.50 536.68,155.67 536.94,155.84 537.19,156.01 537.44,156.18 537.70,156.35 537.95,156.52 538.20,156.69 538.45,156.85 538.71,157.01 538.96,157.17 539.21,157.33 539.47,157.49 539.72,157.65 539.97,157.80 540.23,157.96 540.48,158.11 540.73,158.26 540.99,158.41 541.24,158.55 541.49,158.70 541.75,158.84 542.00,158.98 542.25,159.12 542.51,159.26 542.76,159.39 543.01,159.53 543.27,159.66 543.52,159.79 543.77,159.91 544.03,160.04 544.28,160.16 544.53,160.28 544.78,160.40 545.04,160.51 545.29,160.63 545.54,160.74 545.80,160.84 546.05,160.95 546.30,161.05 546.56,161.15 546.81,161.25 547.06,161.35 547.32,161.44 547.57,161.53 547.82,161.62 548.08,161.70 548.33,161.79 548.58,161.87 548.84,161.94 549.09,162.02 549.34,162.09 549.60,162.16 549.85,162.22 550.10,162.28 550.35,162.34 550.61,162.40 550.86,162.45 551.11,162.50 551.37,162.55 551.62,162.59 551.87,162.63 552.13,162.67 552.38,162.70 552.63,162.73 552.89,162.76 553.14,162.78 553.39,162.80 553.65,162.82 553.90,162.83 554.15,162.84 554.41,162.92" fill="none" stroke="#e0393c" stroke-width="1.05" stroke-linejoin="round"/>
<rect x="478.90" y="20.90" width="198.70" height="142.30" fill="none" stroke="#5c5c5c" stroke-width="1.15"/>
<line x1="478.90" y1="163.20" x2="478.90" y2="165.70" stroke="#5c5c5c" stroke-width="1"/>
<text x="478.90" y="177.80" text-anchor="middle" font-size="10" fill="#141414">0</text>
<line x1="503.74" y1="163.20" x2="503.74" y2="165.70" stroke="#5c5c5c" stroke-width="1"/>
<text x="503.74" y="177.80" text-anchor="middle" font-size="10" fill="#141414">1</text>
<line x1="528.58" y1="163.20" x2="528.58" y2="165.70" stroke="#5c5c5c" stroke-width="1"/>
<text x="528.58" y="177.80" text-anchor="middle" font-size="10" fill="#141414">2</text>
<line x1="553.41" y1="163.20" x2="553.41" y2="165.70" stroke="#5c5c5c" stroke-width="1"/>
<text x="553.41" y="177.80" text-anchor="middle" font-size="10" fill="#141414">3</text>
<line x1="578.25" y1="163.20" x2="578.25" y2="165.70" stroke="#5c5c5c" stroke-width="1"/>
<text x="578.25" y="177.80" text-anchor="middle" font-size="10" fill="#141414">4</text>
<line x1="603.09" y1="163.20" x2="603.09" y2="165.70" stroke="#5c5c5c" stroke-width="1"/>
<text x="603.09" y="177.80" text-anchor="middle" font-size="10" fill="#141414">5</text>
<line x1="627.92" y1="163.20" x2="627.92" y2="165.70" stroke="#5c5c5c" stroke-width="1"/>
<text x="627.92" y="177.80" text-anchor="middle" font-size="10" fill="#141414">6</text>
<line x1="652.76" y1="163.20" x2="652.76" y2="165.70" stroke="#5c5c5c" stroke-width="1"/>
<text x="652.76" y="177.80" text-anchor="middle" font-size="10" fill="#141414">7</text>
<line x1="677.60" y1="163.20" x2="677.60" y2="165.70" stroke="#5c5c5c" stroke-width="1"/>
<text x="677.60" y="177.80" text-anchor="middle" font-size="10" fill="#141414">8</text>
<line x1="476.40" y1="127.62" x2="478.90" y2="127.62" stroke="#5c5c5c" stroke-width="1"/>
<text x="472.30" y="130.88" text-anchor="end" font-size="10" fill="#141414">5</text>
<line x1="476.40" y1="92.05" x2="478.90" y2="92.05" stroke="#5c5c5c" stroke-width="1"/>
<text x="472.30" y="95.30" text-anchor="end" font-size="10" fill="#141414">10</text>
<line x1="476.40" y1="56.47" x2="478.90" y2="56.47" stroke="#5c5c5c" stroke-width="1"/>
<text x="472.30" y="59.72" text-anchor="end" font-size="10" fill="#141414">15</text>
<line x1="476.40" y1="20.90" x2="478.90" y2="20.90" stroke="#5c5c5c" stroke-width="1"/>
<text x="472.30" y="24.15" text-anchor="end" font-size="10" fill="#141414">20</text>
<text x="577.20" y="15.00" text-anchor="middle" font-size="10" fill="#141414">SYTO9 stained segments</text>
<text x="597.60" y="33.00" font-size="10" fill="#141414">100 segments</text>
<text x="597.60" y="46.10" font-size="10" fill="#141414">Mean 0.85 µm</text>
<text x="597.60" y="59.20" font-size="10" fill="#141414">s.d. 0.41</text>
<text x="597.60" y="72.30" font-size="10" fill="#141414">Median 0.74</text>
<text x="631.00" y="189.80" font-size="10" fill="#141414">Length (µm)</text>
<rect x="253.95" y="280.34" width="12.42" height="80.86" fill="#b8b8b8" stroke="#4a4a4a" stroke-width="0.9"/>
<rect x="266.37" y="247.04" width="12.42" height="114.16" fill="#b8b8b8" stroke="#4a4a4a" stroke-width="0.9"/>
<rect x="278.79" y="256.55" width="12.42" height="104.65" fill="#b8b8b8" stroke="#4a4a4a" stroke-width="0.9"/>
<rect x="291.21" y="308.88" width="12.42" height="52.32" fill="#b8b8b8" stroke="#4a4a4a" stroke-width="0.9"/>
<rect x="303.63" y="323.15" width="12.42" height="38.05" fill="#b8b8b8" stroke="#4a4a4a" stroke-width="0.9"/>
<rect x="316.05" y="313.63" width="12.42" height="47.57" fill="#b8b8b8" stroke="#4a4a4a" stroke-width="0.9"/>
<rect x="328.47" y="356.44" width="12.42" height="4.76" fill="#b8b8b8" stroke="#4a4a4a" stroke-width="0.9"/>
<rect x="340.89" y="356.44" width="12.42" height="4.76" fill="#b8b8b8" stroke="#4a4a4a" stroke-width="0.9"/>
<rect x="353.31" y="351.69" width="12.42" height="9.51" fill="#b8b8b8" stroke="#4a4a4a" stroke-width="0.9"/>
<rect x="365.73" y="356.44" width="12.42" height="4.76" fill="#b8b8b8" stroke="#4a4a4a" stroke-width="0.9"/>
<rect x="378.15" y="356.44" width="12.42" height="4.76" fill="#b8b8b8" stroke="#4a4a4a" stroke-width="0.9"/>
<rect x="390.57" y="356.44" width="12.42" height="4.76" fill="#b8b8b8" stroke="#4a4a4a" stroke-width="0.9"/>
<polyline points="242.39,361.20 242.98,356.62 243.58,351.68 244.17,346.47 244.76,341.06 245.35,335.52 245.94,329.93 246.54,324.36 247.13,318.89 247.72,313.58 248.31,308.52 248.90,303.77 249.50,299.36 250.09,295.31 250.68,291.64 251.27,288.38 251.86,285.51 252.46,282.94 253.05,280.53 253.64,278.17 254.23,275.73 254.82,273.11 255.42,270.35 256.01,267.50 256.60,264.63 257.19,261.80 257.78,259.05 258.38,256.41 258.97,253.88 259.56,251.50 260.15,249.28 260.74,247.22 261.34,245.33 261.93,243.60 262.52,242.01 263.11,240.56 263.70,239.24 264.29,238.04 264.89,236.97 265.48,236.00 266.07,235.13 266.66,234.37 267.25,233.71 267.85,233.14 268.44,232.66 269.03,232.27 269.62,231.96 270.21,231.74 270.81,231.58 271.40,231.50 271.99,231.49 272.58,231.55 273.17,231.66 273.77,231.84 274.36,232.06 274.95,232.34 275.54,232.66 276.13,233.03 276.73,233.44 277.32,233.88 277.91,234.35 278.50,234.85 279.09,235.38 279.69,235.93 280.28,236.52 280.87,237.13 281.46,237.78 282.05,238.48 282.65,239.22 283.24,240.00 283.83,240.84 284.42,241.74 285.01,242.69 285.60,243.71 286.20,244.80 286.79,245.95 287.38,247.17 287.97,248.43 288.56,249.70 289.16,250.97 289.75,252.22 290.34,253.42 290.93,254.55 291.52,255.60 292.12,256.54 292.71,257.35 293.30,258.03 293.89,258.66 294.48,259.28 295.08,259.97 295.67,260.77 296.26,261.69 296.85,262.71 297.44,263.82 298.04,264.99 298.63,266.22 299.22,267.49 299.81,268.77 300.40,270.05 301.00,271.33 301.59,272.60 302.18,273.86 302.77,275.11 303.36,276.35 303.96,277.58 304.55,278.80 305.14,280.02 305.73,281.22 306.32,282.41 306.92,283.59 307.51,284.76 308.10,285.92 308.69,287.07 309.28,288.21 309.87,289.34 310.47,290.45 311.06,291.55 311.65,292.64 312.24,293.71 312.83,294.78 313.43,295.83 314.02,296.86 314.61,297.89 315.20,298.90 315.79,299.89 316.39,300.88 316.98,301.84 317.57,302.80 318.16,303.74 318.75,304.67 319.35,305.58 319.94,306.48 320.53,307.37 321.12,308.24 321.71,309.10 322.31,309.94 322.90,310.77 323.49,311.58 324.08,312.38 324.67,313.17 325.27,313.94 325.86,314.69 326.45,315.43 327.04,316.16 327.63,316.87 328.23,317.57 328.82,318.25 329.41,318.91 330.00,319.57 330.59,320.20 331.18,320.82 331.78,321.43 332.37,322.02 332.96,322.60 333.55,323.16 334.14,323.71 334.74,324.25 335.33,324.78 335.92,325.29 336.51,325.79 337.10,326.28 337.70,326.76 338.29,327.23 338.88,327.69 339.47,328.14 340.06,328.58 340.66,329.02 341.25,329.44 341.84,329.85 342.43,330.26 343.02,330.66 343.62,331.06 344.21,331.44 344.80,331.82 345.39,332.20 345.98,332.57 346.58,332.93 347.17,333.29 347.76,333.65 348.35,334.00 348.94,334.35 349.54,334.70 350.13,335.04 350.72,335.38 351.31,335.72 351.90,336.05 352.49,336.39 353.09,336.72 353.68,337.04 354.27,337.37 354.86,337.69 355.45,338.02 356.05,338.33 356.64,338.65 357.23,338.96 357.82,339.28 358.41,339.59 359.01,339.89 359.60,340.20 360.19,340.50 360.78,340.80 361.37,341.10 361.97,341.39 362.56,341.69 363.15,341.98 363.74,342.27 364.33,342.55 364.93,342.84 365.52,343.12 366.11,343.40 366.70,343.68 367.29,343.95 367.89,344.23 368.48,344.50 369.07,344.77 369.66,345.04 370.25,345.30 370.85,345.57 371.44,345.83 372.03,346.09 372.62,346.34 373.21,346.60 373.80,346.85 374.40,347.10 374.99,347.35 375.58,347.60 376.17,347.84 376.76,348.08 377.36,348.33 377.95,348.56 378.54,348.80 379.13,349.04 379.72,349.27 380.32,349.50 380.91,349.73 381.50,349.96 382.09,350.18 382.68,350.41 383.28,350.63 383.87,350.85 384.46,351.07 385.05,351.28 385.64,351.50 386.24,351.71 386.83,351.92 387.42,352.13 388.01,352.34 388.60,352.54 389.20,352.75 389.79,352.95 390.38,353.15 390.97,353.35 391.56,353.54 392.16,353.74 392.75,353.93 393.34,354.12 393.93,354.32 394.52,354.50 395.12,354.69 395.71,354.88 396.30,355.06 396.89,355.24 397.48,355.42 398.07,355.60 398.67,355.78 399.26,355.95 399.85,356.13 400.44,356.30 401.03,356.47 401.63,356.64 402.22,356.81 402.81,356.98 403.40,357.14 403.99,357.31 404.59,357.47 405.18,357.63 405.77,357.79 406.36,357.95 406.95,358.10 407.55,358.26 408.14,358.41 408.73,358.56 409.32,358.71 409.91,358.86 410.51,359.01 411.10,359.16 411.69,359.30 412.28,359.45 412.87,359.59 413.47,359.73 414.06,359.87 414.65,360.01 415.24,360.15 415.83,360.29 416.43,360.42 417.02,360.55 417.61,360.69 418.20,360.82 418.79,360.95 419.38,361.20" fill="none" stroke="#303030" stroke-width="1.05" stroke-linejoin="round"/>
<rect x="241.30" y="218.50" width="198.70" height="142.70" fill="none" stroke="#5c5c5c" stroke-width="1.15"/>
<line x1="241.30" y1="361.20" x2="241.30" y2="363.70" stroke="#5c5c5c" stroke-width="1"/>
<text x="241.30" y="375.30" text-anchor="middle" font-size="10" fill="#141414">0</text>
<line x1="266.14" y1="361.20" x2="266.14" y2="363.70" stroke="#5c5c5c" stroke-width="1"/>
<text x="266.14" y="375.30" text-anchor="middle" font-size="10" fill="#141414">1</text>
<line x1="290.98" y1="361.20" x2="290.98" y2="363.70" stroke="#5c5c5c" stroke-width="1"/>
<text x="290.98" y="375.30" text-anchor="middle" font-size="10" fill="#141414">2</text>
<line x1="315.81" y1="361.20" x2="315.81" y2="363.70" stroke="#5c5c5c" stroke-width="1"/>
<text x="315.81" y="375.30" text-anchor="middle" font-size="10" fill="#141414">3</text>
<line x1="340.65" y1="361.20" x2="340.65" y2="363.70" stroke="#5c5c5c" stroke-width="1"/>
<text x="340.65" y="375.30" text-anchor="middle" font-size="10" fill="#141414">4</text>
<line x1="365.49" y1="361.20" x2="365.49" y2="363.70" stroke="#5c5c5c" stroke-width="1"/>
<text x="365.49" y="375.30" text-anchor="middle" font-size="10" fill="#141414">5</text>
<line x1="390.32" y1="361.20" x2="390.32" y2="363.70" stroke="#5c5c5c" stroke-width="1"/>
<text x="390.32" y="375.30" text-anchor="middle" font-size="10" fill="#141414">6</text>
<line x1="415.16" y1="361.20" x2="415.16" y2="363.70" stroke="#5c5c5c" stroke-width="1"/>
<text x="415.16" y="375.30" text-anchor="middle" font-size="10" fill="#141414">7</text>
<line x1="440.00" y1="361.20" x2="440.00" y2="363.70" stroke="#5c5c5c" stroke-width="1"/>
<text x="440.00" y="375.30" text-anchor="middle" font-size="10" fill="#141414">8</text>
<line x1="238.80" y1="337.42" x2="241.30" y2="337.42" stroke="#5c5c5c" stroke-width="1"/>
<text x="235.40" y="340.67" text-anchor="end" font-size="10" fill="#141414">5</text>
<line x1="238.80" y1="313.63" x2="241.30" y2="313.63" stroke="#5c5c5c" stroke-width="1"/>
<text x="235.40" y="316.88" text-anchor="end" font-size="10" fill="#141414">10</text>
<line x1="238.80" y1="289.85" x2="241.30" y2="289.85" stroke="#5c5c5c" stroke-width="1"/>
<text x="235.40" y="293.10" text-anchor="end" font-size="10" fill="#141414">15</text>
<line x1="238.80" y1="266.07" x2="241.30" y2="266.07" stroke="#5c5c5c" stroke-width="1"/>
<text x="235.40" y="269.32" text-anchor="end" font-size="10" fill="#141414">20</text>
<line x1="238.80" y1="242.28" x2="241.30" y2="242.28" stroke="#5c5c5c" stroke-width="1"/>
<text x="235.40" y="245.53" text-anchor="end" font-size="10" fill="#141414">25</text>
<line x1="238.80" y1="218.50" x2="241.30" y2="218.50" stroke="#5c5c5c" stroke-width="1"/>
<text x="235.40" y="221.75" text-anchor="end" font-size="10" fill="#141414">30</text>
<text x="341.00" y="214.70" text-anchor="middle" font-size="10" fill="#141414">YOPRO-1/PI stained segments</text>
<text x="359.50" y="232.80" font-size="10" fill="#141414">101 segments</text>
<text x="359.50" y="245.90" font-size="10" fill="#141414">Mean 2.03 µm</text>
<text x="359.50" y="259.00" font-size="10" fill="#141414">s.d. 1.3</text>
<text x="359.50" y="272.10" font-size="10" fill="#141414">Median 1.67</text>
<text transform="translate(216.50,290.60) rotate(-90)" text-anchor="middle" font-size="10" fill="#141414">Number of compartments counted</text>
<rect x="486.70" y="320.92" width="2.94" height="39.98" fill="#b8b8b8" stroke="#4a4a4a" stroke-width="0.8"/>
<rect x="489.64" y="258.08" width="2.94" height="102.82" fill="#b8b8b8" stroke="#4a4a4a" stroke-width="0.8"/>
<rect x="492.58" y="258.08" width="2.94" height="102.82" fill="#b8b8b8" stroke="#4a4a4a" stroke-width="0.8"/>
<rect x="495.52" y="229.52" width="2.94" height="131.38" fill="#b8b8b8" stroke="#4a4a4a" stroke-width="0.8"/>
<rect x="498.46" y="315.20" width="2.94" height="45.70" fill="#b8b8b8" stroke="#4a4a4a" stroke-width="0.8"/>
<rect x="501.40" y="309.49" width="2.94" height="51.41" fill="#b8b8b8" stroke="#4a4a4a" stroke-width="0.8"/>
<rect x="504.34" y="332.34" width="2.94" height="28.56" fill="#b8b8b8" stroke="#4a4a4a" stroke-width="0.8"/>
<rect x="507.28" y="332.34" width="2.94" height="28.56" fill="#b8b8b8" stroke="#4a4a4a" stroke-width="0.8"/>
<rect x="510.22" y="349.48" width="2.94" height="11.42" fill="#b8b8b8" stroke="#4a4a4a" stroke-width="0.8"/>
<rect x="513.16" y="355.19" width="2.94" height="5.71" fill="#b8b8b8" stroke="#4a4a4a" stroke-width="0.8"/>
<rect x="516.10" y="349.48" width="2.94" height="11.42" fill="#b8b8b8" stroke="#4a4a4a" stroke-width="0.8"/>
<rect x="521.98" y="355.19" width="2.94" height="5.71" fill="#b8b8b8" stroke="#4a4a4a" stroke-width="0.8"/>
<rect x="524.92" y="355.19" width="2.94" height="5.71" fill="#b8b8b8" stroke="#4a4a4a" stroke-width="0.8"/>
<rect x="545.50" y="355.19" width="2.94" height="5.71" fill="#b8b8b8" stroke="#4a4a4a" stroke-width="0.8"/>
<polyline points="479.55,360.90 479.81,360.90 480.07,360.90 480.33,360.90 480.59,360.90 480.85,360.90 481.11,360.31 481.37,355.68 481.63,350.24 481.89,344.18 482.15,337.66 482.41,330.88 482.67,324.01 482.93,317.24 483.19,310.74 483.45,304.70 483.71,299.30 483.97,294.69 484.23,290.85 484.49,287.64 484.75,284.81 485.01,282.12 485.27,279.28 485.53,276.10 485.79,272.65 486.05,269.05 486.31,265.41 486.57,261.87 486.83,258.55 487.09,255.51 487.35,252.74 487.61,250.21 487.87,247.92 488.13,245.82 488.39,243.91 488.65,242.14 488.91,240.52 489.17,239.00 489.43,237.57 489.69,236.21 489.95,234.94 490.21,233.74 490.47,232.62 490.73,231.56 490.99,230.58 491.25,229.67 491.51,228.82 491.77,228.04 492.03,227.32 492.29,226.66 492.55,226.06 492.81,225.52 493.07,225.03 493.33,224.60 493.59,224.22 493.85,223.90 494.11,223.62 494.37,223.39 494.63,223.20 494.89,223.06 495.15,222.96 495.41,222.89 495.67,222.87 495.93,222.88 496.19,222.93 496.45,223.01 496.71,223.12 496.97,223.26 497.23,223.43 497.49,223.62 497.75,223.84 498.02,224.08 498.28,224.34 498.54,224.62 498.80,224.91 499.06,225.22 499.32,225.55 499.58,225.88 499.84,226.23 500.10,226.59 500.36,226.98 500.62,227.43 500.88,227.94 501.14,228.52 501.40,229.20 501.66,229.99 501.92,230.90 502.18,231.95 502.44,233.15 502.70,234.52 502.96,236.08 503.22,237.83 503.48,239.80 503.74,241.99 504.00,244.38 504.26,246.88 504.52,249.39 504.78,251.81 505.04,254.10 505.30,256.26 505.56,258.33 505.82,260.30 506.08,262.20 506.34,264.03 506.60,265.82 506.86,267.56 507.12,269.29 507.38,270.99 507.64,272.67 507.90,274.33 508.16,275.97 508.42,277.59 508.68,279.18 508.94,280.76 509.20,282.31 509.46,283.85 509.72,285.36 509.98,286.86 510.24,288.33 510.50,289.78 510.76,291.21 511.02,292.62 511.28,294.01 511.54,295.38 511.80,296.73 512.06,298.06 512.32,299.37 512.58,300.66 512.84,301.93 513.10,303.18 513.36,304.40 513.62,305.61 513.88,306.80 514.14,307.97 514.40,309.12 514.66,310.25 514.92,311.36 515.18,312.44 515.44,313.51 515.70,314.56 515.96,315.59 516.22,316.61 516.48,317.60 516.74,318.57 517.01,319.52 517.27,320.46 517.53,321.37 517.79,322.27 518.05,323.15 518.31,324.01 518.57,324.86 518.83,325.68 519.09,326.49 519.35,327.28 519.61,328.06 519.87,328.82 520.13,329.56 520.39,330.29 520.65,331.00 520.91,331.70 521.17,332.38 521.43,333.05 521.69,333.70 521.95,334.34 522.21,334.96 522.47,335.57 522.73,336.16 522.99,336.74 523.25,337.31 523.51,337.87 523.77,338.41 524.03,338.94 524.29,339.46 524.55,339.96 524.81,340.45 525.07,340.94 525.33,341.41 525.59,341.87 525.85,342.31 526.11,342.75 526.37,343.18 526.63,343.59 526.89,344.00 527.15,344.40 527.41,344.78 527.67,345.16 527.93,345.53 528.19,345.89 528.45,346.24 528.71,346.58 528.97,346.92 529.23,347.25 529.49,347.57 529.75,347.88 530.01,348.18 530.27,348.48 530.53,348.77 530.79,349.06 531.05,349.33 531.31,349.61 531.57,349.87 531.83,350.13 532.09,350.39 532.35,350.63 532.61,350.87 532.87,351.11 533.13,351.34 533.39,351.57 533.65,351.79 533.91,352.00 534.17,352.21 534.43,352.41 534.69,352.61 534.95,352.81 535.21,353.00 535.47,353.18 535.73,353.36 535.99,353.53 536.26,353.71 536.52,353.87 536.78,354.03 537.04,354.19 537.30,354.34 537.56,354.49 537.82,354.64 538.08,354.78 538.34,354.92 538.60,355.06 538.86,355.19 539.12,355.31 539.38,355.44 539.64,355.56 539.90,355.68 540.16,355.79 540.42,355.91 540.68,356.01 540.94,356.12 541.20,356.22 541.46,356.32 541.72,356.42 541.98,356.52 542.24,356.61 542.50,356.70 542.76,356.79 543.02,356.87 543.28,356.96 543.54,357.04 543.80,357.12 544.06,357.19 544.32,357.27 544.58,357.34 544.84,357.41 545.10,357.48 545.36,357.55 545.62,357.62 545.88,357.68 546.14,357.75 546.40,357.81 546.66,357.87 546.92,357.93 547.18,357.99 547.44,358.04 547.70,358.10 547.96,358.16 548.22,358.21 548.48,358.26 548.74,358.32 549.00,358.37 549.26,358.42 549.52,358.47 549.78,358.52 550.04,358.58 550.30,358.63 550.56,358.68 550.82,358.73 551.08,358.78 551.34,358.83 551.60,358.88 551.86,358.93 552.12,358.98 552.38,359.03 552.64,359.08 552.90,359.13 553.16,359.18 553.42,359.24 553.68,359.29 553.94,359.34 554.20,359.40 554.46,359.45 554.72,359.51 554.98,359.57 555.24,359.63 555.51,359.69 555.77,359.75 556.03,359.81 556.29,359.88 556.55,359.94 556.81,360.01 557.07,360.08 557.33,360.21" fill="none" stroke="#e0393c" stroke-width="1.05" stroke-linejoin="round"/>
<rect x="478.80" y="218.10" width="198.80" height="142.80" fill="none" stroke="#5c5c5c" stroke-width="1.15"/>
<line x1="478.80" y1="360.90" x2="478.80" y2="363.40" stroke="#5c5c5c" stroke-width="1"/>
<text x="478.80" y="375.00" text-anchor="middle" font-size="10" fill="#141414">0</text>
<line x1="503.65" y1="360.90" x2="503.65" y2="363.40" stroke="#5c5c5c" stroke-width="1"/>
<text x="503.65" y="375.00" text-anchor="middle" font-size="10" fill="#141414">1</text>
<line x1="528.50" y1="360.90" x2="528.50" y2="363.40" stroke="#5c5c5c" stroke-width="1"/>
<text x="528.50" y="375.00" text-anchor="middle" font-size="10" fill="#141414">2</text>
<line x1="553.35" y1="360.90" x2="553.35" y2="363.40" stroke="#5c5c5c" stroke-width="1"/>
<text x="553.35" y="375.00" text-anchor="middle" font-size="10" fill="#141414">3</text>
<line x1="578.20" y1="360.90" x2="578.20" y2="363.40" stroke="#5c5c5c" stroke-width="1"/>
<text x="578.20" y="375.00" text-anchor="middle" font-size="10" fill="#141414">4</text>
<line x1="603.05" y1="360.90" x2="603.05" y2="363.40" stroke="#5c5c5c" stroke-width="1"/>
<text x="603.05" y="375.00" text-anchor="middle" font-size="10" fill="#141414">5</text>
<line x1="627.90" y1="360.90" x2="627.90" y2="363.40" stroke="#5c5c5c" stroke-width="1"/>
<text x="627.90" y="375.00" text-anchor="middle" font-size="10" fill="#141414">6</text>
<line x1="652.75" y1="360.90" x2="652.75" y2="363.40" stroke="#5c5c5c" stroke-width="1"/>
<text x="652.75" y="375.00" text-anchor="middle" font-size="10" fill="#141414">7</text>
<line x1="677.60" y1="360.90" x2="677.60" y2="363.40" stroke="#5c5c5c" stroke-width="1"/>
<text x="677.60" y="375.00" text-anchor="middle" font-size="10" fill="#141414">8</text>
<line x1="476.30" y1="332.34" x2="478.80" y2="332.34" stroke="#5c5c5c" stroke-width="1"/>
<text x="472.20" y="335.59" text-anchor="end" font-size="10" fill="#141414">5</text>
<line x1="476.30" y1="303.78" x2="478.80" y2="303.78" stroke="#5c5c5c" stroke-width="1"/>
<text x="472.20" y="307.03" text-anchor="end" font-size="10" fill="#141414">10</text>
<line x1="476.30" y1="275.22" x2="478.80" y2="275.22" stroke="#5c5c5c" stroke-width="1"/>
<text x="472.20" y="278.47" text-anchor="end" font-size="10" fill="#141414">15</text>
<line x1="476.30" y1="246.66" x2="478.80" y2="246.66" stroke="#5c5c5c" stroke-width="1"/>
<text x="472.20" y="249.91" text-anchor="end" font-size="10" fill="#141414">20</text>
<line x1="476.30" y1="218.10" x2="478.80" y2="218.10" stroke="#5c5c5c" stroke-width="1"/>
<text x="472.20" y="221.35" text-anchor="end" font-size="10" fill="#141414">25</text>
<text x="577.20" y="214.60" text-anchor="middle" font-size="10" fill="#141414">Unstained segments</text>
<text x="597.40" y="232.90" font-size="10" fill="#141414">102 segments</text>
<text x="597.40" y="246.00" font-size="10" fill="#141414">Mean 0.81 µm</text>
<text x="597.40" y="259.10" font-size="10" fill="#141414">s.d. 0.36</text>
<text x="597.40" y="272.20" font-size="10" fill="#141414">Median 0.72</text>
<text x="627.30" y="386.10" font-size="10" fill="#141414">Length µm</text></g>
</g>
</svg>
</body></html>
